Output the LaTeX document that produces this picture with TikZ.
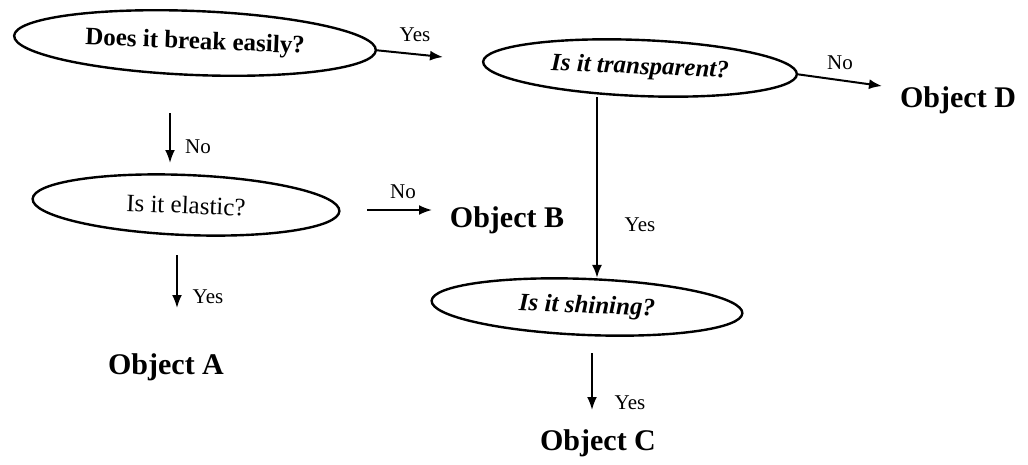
\documentclass[tikz,border=0pt]{standalone}
\usepackage{fontspec}
\setmainfont{Liberation Serif}
\usetikzlibrary{shapes.geometric,arrows.meta}
\begin{document}
\begin{tikzpicture}[x=1pt,y=-1pt,
  q/.style={ellipse, draw, line width=2.4pt, inner sep=0pt, rotate=-2.3,
            font=\fontsize{25}{28}\selectfont},
  obj/.style={font=\fontsize{30}{34}\selectfont\bfseries},
  lbl/.style={font=\fontsize{21}{24}\selectfont},
  arr/.style={line width=2pt, -{Latex[length=13pt,width=10pt]}}]
\useasboundingbox (0,0) rectangle (1028,464);
% question ellipses
\node[q, minimum width=362pt, minimum height=64pt, font=\fontsize{25}{28}\selectfont\bfseries] (e1) at (195,43) {Does it break easily?};
\node[q, minimum width=314pt, minimum height=56pt, font=\fontsize{25}{28}\selectfont\bfseries\itshape] (e2) at (640,68) {Is it transparent?};
\node[q, minimum width=307pt, minimum height=60pt] (e3) at (186,205) {Is it elastic?};
\node[q, minimum width=311pt, minimum height=56pt, font=\fontsize{25}{28}\selectfont\bfseries\itshape] (e4) at (587,307) {Is it shining?};
% results
\node[obj] (oa) at (166,367) {Object A};
\node[obj] (ob) at (507,220) {Object B};
\node[obj] (oc) at (598,443) {Object C};
\node[obj] (od) at (958,100) {Object D};
% free arrow ends
\coordinate (y1) at (443,57);
\coordinate (n1a) at (170,113);
\coordinate (n1b) at (170,163);
\coordinate (n2a) at (367,210);
\coordinate (n2b) at (432,210);
\coordinate (y2a) at (177,255);
\coordinate (y2b) at (177,308);
\coordinate (vx) at (597,0);
\coordinate (n3b) at (882,86);
\coordinate (y4a) at (592,353);
\coordinate (y4b) at (592,410);
% connectors
\draw[arr] (e1.east) -- (y1);
\draw[arr] (n1a) -- (n1b);
\draw[arr] (n2a) -- (n2b);
\draw[arr] (y2a) -- (y2b);
\draw[arr] (vx |- e2.south) -- (vx |- e4.north);
\draw[arr] (e2.east) -- (n3b);
\draw[arr] (y4a) -- (y4b);
% labels
\node[lbl] (l1) at (415,35) {Yes};
\node[lbl] (l2) at (198,147) {No};
\node[lbl] (l3) at (403,192) {No};
\node[lbl] (l4) at (208,297) {Yes};
\node[lbl] (l5) at (640,225) {Yes};
\node[lbl] (l6) at (840,63) {No};
\node[lbl] (l7) at (630,403) {Yes};
\end{tikzpicture}
\end{document}
